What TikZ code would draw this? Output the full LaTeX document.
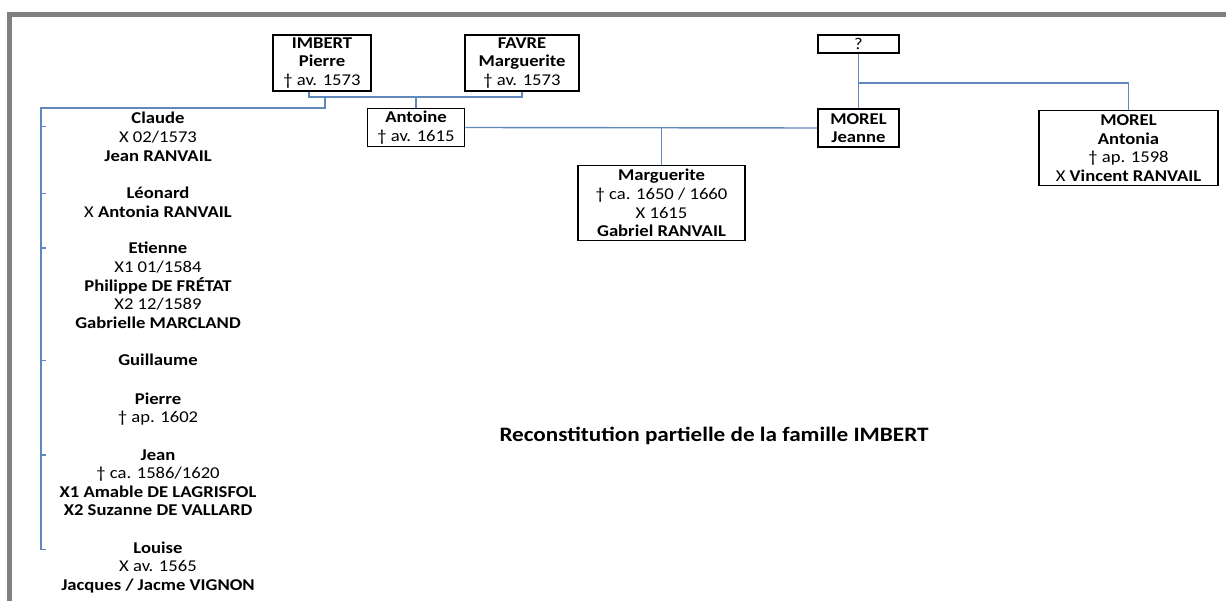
\documentclass[tikz,border=0pt]{standalone}
\usepackage{fontspec}
\setmainfont{Carlito}[FakeStretch=1.13]

\definecolor{linkblue}{RGB}{96,136,186}
\definecolor{framegray}{RGB}{128,128,128}
\newcommand{\treefont}{\fontsize{16.5}{18.6}\selectfont}
\newcommand{\dat}[1]{{\mdseries #1}}

\tikzset{
	box/.style={draw, line width=1.6pt, align=center, inner sep=0pt, font=\treefont\bfseries},
	kid/.style={align=center, anchor=base, inner sep=0pt, font=\treefont\bfseries},
	link/.style={draw=linkblue, line width=1.4pt},
}

\begin{document}
\begin{tikzpicture}[x=1pt, y=-1pt]
\useasboundingbox (0,0) rectangle (1226,601);
\draw [framegray, line width=5pt] (9.5,601) -- (9.5,14.5) -- (1226,14.5);

\node [box, minimum width=98pt, minimum height=56pt] (imbert) at (322,63) {IMBERT\\ Pierre\\ \dat{† av. 1573}};
\node [box, minimum width=114pt, minimum height=56pt] (favre) at (522,63) {FAVRE\\ Marguerite\\ \dat{† av. 1573}};
\node [box, minimum width=97pt, minimum height=38pt] (antoine) at (416,127.5) {Antoine\\ \dat{† av. 1615}};
\node [box, minimum width=167pt, minimum height=75pt] (marguerite) at (661.5,203) {Marguerite\\ \dat{† ca. 1650 / 1660}\\ \dat{X 1615}\\ Gabriel RANVAIL};
\node [box, minimum width=81pt, minimum height=18pt] (unknown) at (858.5,44) {\dat{?}};
\node [box, minimum width=81pt, minimum height=38pt] (jeanne) at (858.5,128) {MOREL\\ Jeanne};
\node [box, minimum width=179pt, minimum height=75pt] (antonia) at (1128.5,148) {MOREL\\ Antonia\\ \dat{† ap. 1598}\\ \dat{X} Vincent RANVAIL};

% base = last line
\node [kid] (claude) at (158,161.2) {Claude\\ \dat{X 02/1573}\\ Jean RANVAIL};
\node [kid] (leonard) at (158,217.6) {Léonard\\ \dat{X} Antonia RANVAIL};
\node [kid] (etienne) at (158,328.4) {Etienne\\ \dat{X1 01/1584}\\ Philippe DE FRÉTAT\\ \dat{X2 12/1589}\\ Gabrielle MARCLAND};
\node [kid] (guillaume) at (158,366) {Guillaume};
\node [kid] (pierre) at (158,422.6) {Pierre\\ \dat{† ap. 1602}};
\node [kid] (jean) at (158,515.8) {Jean\\ \dat{† ca. 1586/1620}\\ X1 Amable DE LAGRISFOL\\ X2 Suzanne DE VALLARD};
\node [kid] (louise) at (158,590.2) {Louise\\ \dat{X av. 1565}\\ Jacques / Jacme VIGNON};

\node [font=\fontsize{20.5}{24}\selectfont\bfseries] (title) at (714,436) {Reconstitution partielle de la famille IMBERT};

\coordinate (kids) at (325,97);
\coordinate (rail) at (41,108);
\coordinate (sib) at (858.5,83);

\draw [link] ([xshift=-13pt]imbert.south) |- (kids) -| (favre.south);
\draw [link] (antoine.north) -- (antoine.north |- kids);
\draw [link] (kids) |- (rail) -- ([yshift=-8pt]rail |- louise.north) -- ++(5,0);
\draw [link] ([yshift=-14pt]rail |- claude.north) -- ++(5,0);
\foreach \n in {leonard,etienne,guillaume,jean}
	\draw [link] ([yshift=-6pt]rail |- \n.north) -- ++(5,0);

\draw [link] (antoine.east) -- (jeanne.west);
\draw [link] (marguerite.north |- antoine.east) -- (marguerite.north);
\draw [link] (unknown.south) -- (jeanne.north);
\draw [link] (sib) -| (antonia.north);

\end{tikzpicture}
\end{document}
